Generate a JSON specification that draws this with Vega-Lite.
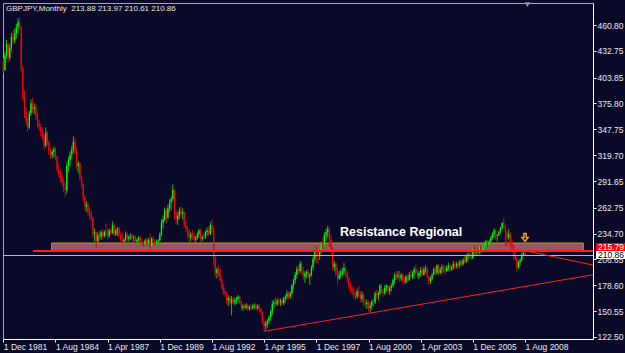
{
"$schema":"https://vega.github.io/schema/vega-lite/v6.json",
"width":590,"height":336,
"autosize":{"type":"none"},
"padding":{"left":3,"top":3,"right":32,"bottom":14},
"background":"#0a0a28",
"view":{"stroke":"#a8a8a8","strokeWidth":1},
"title":{"text":"GBPJPY,Monthly\u00a0 213.88 213.97 210.61 210.86","anchor":"start","frame":"group","offset":-11,"dx":3,"fontSize":8,"fontWeight":"normal","color":"#e6e6e6","font":"Liberation Sans, sans-serif"},
"resolve":{"axis":{"x":"independent","y":"independent"}},
"config":{
"axis":{"labelFont":"Liberation Sans, sans-serif","labelFontSize":8.5,"labelColor":"#e8e8e8","domainColor":"#ffffff","tickColor":"#ffffff","tickSize":3,"grid":false,"title":null,"labelOverlap":false,"labelFlush":false}
},
"datasets":{
"bars":[
{"d":"1981-12-01","o":422,"h":425,"l":409,"c":412},
{"d":"1982-01-01","o":412,"h":432,"l":411,"c":428},
{"d":"1982-02-01","o":428,"h":445,"l":424,"c":440},
{"d":"1982-03-01","o":440,"h":442,"l":420,"c":425},
{"d":"1982-04-01","o":425,"h":440,"l":422,"c":436},
{"d":"1982-05-01","o":436,"h":452,"l":432,"c":448},
{"d":"1982-06-01","o":448,"h":455,"l":440,"c":444},
{"d":"1982-07-01","o":444,"h":457,"l":441,"c":452},
{"d":"1982-08-01","o":452,"h":462,"l":446,"c":458},
{"d":"1982-09-01","o":458,"h":468,"l":452,"c":464},
{"d":"1982-10-01","o":464,"h":469,"l":455,"c":458},
{"d":"1982-11-01","o":458,"h":460,"l":410,"c":414},
{"d":"1982-12-01","o":414,"h":416,"l":378,"c":382},
{"d":"1983-01-01","o":382,"h":390,"l":360,"c":366},
{"d":"1983-02-01","o":366,"h":372,"l":352,"c":356},
{"d":"1983-03-01","o":356,"h":360,"l":345,"c":350},
{"d":"1983-04-01","o":350,"h":368,"l":348,"c":365},
{"d":"1983-05-01","o":365,"h":380,"l":362,"c":376},
{"d":"1983-06-01","o":376,"h":382,"l":365,"c":370},
{"d":"1983-07-01","o":370,"h":376,"l":364,"c":372},
{"d":"1983-08-01","o":372,"h":375,"l":358,"c":362},
{"d":"1983-09-01","o":362,"h":366,"l":350,"c":354},
{"d":"1983-10-01","o":354,"h":358,"l":346,"c":350},
{"d":"1983-11-01","o":350,"h":354,"l":340,"c":346},
{"d":"1983-12-01","o":346,"h":350,"l":336,"c":340},
{"d":"1984-01-01","o":340,"h":343,"l":326,"c":330},
{"d":"1984-02-01","o":330,"h":350,"l":328,"c":344},
{"d":"1984-03-01","o":344,"h":346,"l":330,"c":334},
{"d":"1984-04-01","o":334,"h":336,"l":320,"c":324},
{"d":"1984-05-01","o":324,"h":328,"l":316,"c":320},
{"d":"1984-06-01","o":320,"h":326,"l":316,"c":323},
{"d":"1984-07-01","o":323,"h":329,"l":317,"c":326},
{"d":"1984-08-01","o":326,"h":328,"l":314,"c":318},
{"d":"1984-09-01","o":318,"h":319,"l":301,"c":304},
{"d":"1984-10-01","o":304,"h":310,"l":296,"c":300},
{"d":"1984-11-01","o":300,"h":304,"l":290,"c":296},
{"d":"1984-12-01","o":296,"h":300,"l":286,"c":290},
{"d":"1985-01-01","o":290,"h":294,"l":280,"c":284},
{"d":"1985-02-01","o":284,"h":290,"l":274,"c":282},
{"d":"1985-03-01","o":282,"h":312,"l":278,"c":308},
{"d":"1985-04-01","o":308,"h":318,"l":302,"c":314},
{"d":"1985-05-01","o":314,"h":324,"l":308,"c":320},
{"d":"1985-06-01","o":320,"h":330,"l":316,"c":326},
{"d":"1985-07-01","o":326,"h":340,"l":322,"c":334},
{"d":"1985-08-01","o":334,"h":338,"l":320,"c":324},
{"d":"1985-09-01","o":324,"h":328,"l":304,"c":308},
{"d":"1985-10-01","o":308,"h":313,"l":300,"c":311},
{"d":"1985-11-01","o":311,"h":312,"l":292,"c":296},
{"d":"1985-12-01","o":296,"h":298,"l":284,"c":288},
{"d":"1986-01-01","o":288,"h":290,"l":270,"c":274},
{"d":"1986-02-01","o":274,"h":276,"l":260,"c":264},
{"d":"1986-03-01","o":264,"h":270,"l":258,"c":266},
{"d":"1986-04-01","o":266,"h":268,"l":254,"c":258},
{"d":"1986-05-01","o":258,"h":263,"l":250,"c":256},
{"d":"1986-06-01","o":256,"h":260,"l":248,"c":252},
{"d":"1986-07-01","o":252,"h":253,"l":230,"c":234},
{"d":"1986-08-01","o":234,"h":240,"l":226,"c":236},
{"d":"1986-09-01","o":236,"h":237,"l":219,"c":226},
{"d":"1986-10-01","o":226,"h":236,"l":224,"c":233},
{"d":"1986-11-01","o":233,"h":238,"l":228,"c":231},
{"d":"1986-12-01","o":231,"h":238,"l":228,"c":236},
{"d":"1987-01-01","o":236,"h":240,"l":228,"c":232},
{"d":"1987-02-01","o":232,"h":238,"l":230,"c":237},
{"d":"1987-03-01","o":237,"h":246,"l":232,"c":236},
{"d":"1987-04-01","o":236,"h":240,"l":228,"c":232},
{"d":"1987-05-01","o":232,"h":240,"l":230,"c":238},
{"d":"1987-06-01","o":238,"h":241,"l":233,"c":235},
{"d":"1987-07-01","o":235,"h":248,"l":234,"c":244},
{"d":"1987-08-01","o":244,"h":246,"l":232,"c":234},
{"d":"1987-09-01","o":234,"h":240,"l":232,"c":238},
{"d":"1987-10-01","o":238,"h":242,"l":232,"c":240},
{"d":"1987-11-01","o":240,"h":242,"l":230,"c":233},
{"d":"1987-12-01","o":233,"h":236,"l":226,"c":228},
{"d":"1988-01-01","o":228,"h":236,"l":224,"c":226},
{"d":"1988-02-01","o":226,"h":230,"l":222,"c":228},
{"d":"1988-03-01","o":228,"h":237,"l":226,"c":234},
{"d":"1988-04-01","o":234,"h":236,"l":226,"c":229},
{"d":"1988-05-01","o":229,"h":233,"l":226,"c":231},
{"d":"1988-06-01","o":231,"h":235,"l":228,"c":232},
{"d":"1988-07-01","o":232,"h":234,"l":226,"c":230},
{"d":"1988-08-01","o":230,"h":233,"l":226,"c":231},
{"d":"1988-09-01","o":231,"h":232,"l":224,"c":226},
{"d":"1988-10-01","o":226,"h":230,"l":223,"c":228},
{"d":"1988-11-01","o":228,"h":232,"l":225,"c":230},
{"d":"1988-12-01","o":230,"h":232,"l":224,"c":226},
{"d":"1989-01-01","o":226,"h":229,"l":222,"c":224},
{"d":"1989-02-01","o":224,"h":226,"l":220,"c":223},
{"d":"1989-03-01","o":223,"h":229,"l":221,"c":227},
{"d":"1989-04-01","o":227,"h":230,"l":222,"c":224},
{"d":"1989-05-01","o":224,"h":230,"l":221,"c":228},
{"d":"1989-06-01","o":228,"h":235,"l":217,"c":221},
{"d":"1989-07-01","o":221,"h":231,"l":220,"c":229},
{"d":"1989-08-01","o":229,"h":232,"l":224,"c":226},
{"d":"1989-09-01","o":226,"h":229,"l":222,"c":224},
{"d":"1989-10-01","o":224,"h":228,"l":222,"c":226},
{"d":"1989-11-01","o":226,"h":229,"l":223,"c":227},
{"d":"1989-12-01","o":227,"h":236,"l":226,"c":234},
{"d":"1990-01-01","o":234,"h":250,"l":232,"c":246},
{"d":"1990-02-01","o":246,"h":254,"l":240,"c":250},
{"d":"1990-03-01","o":250,"h":263,"l":248,"c":260},
{"d":"1990-04-01","o":260,"h":262,"l":246,"c":252},
{"d":"1990-05-01","o":252,"h":266,"l":250,"c":262},
{"d":"1990-06-01","o":262,"h":272,"l":258,"c":268},
{"d":"1990-07-01","o":268,"h":275,"l":260,"c":272},
{"d":"1990-08-01","o":272,"h":288,"l":270,"c":282},
{"d":"1990-09-01","o":282,"h":283,"l":250,"c":256},
{"d":"1990-10-01","o":256,"h":260,"l":245,"c":250},
{"d":"1990-11-01","o":250,"h":258,"l":244,"c":254},
{"d":"1990-12-01","o":254,"h":263,"l":250,"c":260},
{"d":"1991-01-01","o":260,"h":264,"l":252,"c":256},
{"d":"1991-02-01","o":256,"h":262,"l":250,"c":258},
{"d":"1991-03-01","o":258,"h":259,"l":241,"c":244},
{"d":"1991-04-01","o":244,"h":248,"l":236,"c":240},
{"d":"1991-05-01","o":240,"h":243,"l":230,"c":238},
{"d":"1991-06-01","o":238,"h":240,"l":226,"c":230},
{"d":"1991-07-01","o":230,"h":236,"l":226,"c":234},
{"d":"1991-08-01","o":234,"h":238,"l":228,"c":232},
{"d":"1991-09-01","o":232,"h":236,"l":226,"c":228},
{"d":"1991-10-01","o":228,"h":232,"l":224,"c":230},
{"d":"1991-11-01","o":230,"h":236,"l":228,"c":234},
{"d":"1991-12-01","o":234,"h":240,"l":230,"c":238},
{"d":"1992-01-01","o":238,"h":240,"l":226,"c":229},
{"d":"1992-02-01","o":229,"h":233,"l":226,"c":231},
{"d":"1992-03-01","o":231,"h":235,"l":228,"c":230},
{"d":"1992-04-01","o":230,"h":238,"l":229,"c":236},
{"d":"1992-05-01","o":236,"h":241,"l":232,"c":238},
{"d":"1992-06-01","o":238,"h":242,"l":232,"c":234},
{"d":"1992-07-01","o":234,"h":247,"l":233,"c":244},
{"d":"1992-08-01","o":244,"h":250,"l":236,"c":240},
{"d":"1992-09-01","o":240,"h":242,"l":200,"c":208},
{"d":"1992-10-01","o":208,"h":210,"l":188,"c":192},
{"d":"1992-11-01","o":192,"h":198,"l":186,"c":196},
{"d":"1992-12-01","o":196,"h":200,"l":188,"c":191},
{"d":"1993-01-01","o":191,"h":196,"l":182,"c":184},
{"d":"1993-02-01","o":184,"h":186,"l":174,"c":176},
{"d":"1993-03-01","o":176,"h":180,"l":168,"c":172},
{"d":"1993-04-01","o":172,"h":176,"l":166,"c":170},
{"d":"1993-05-01","o":170,"h":172,"l":158,"c":162},
{"d":"1993-06-01","o":162,"h":168,"l":156,"c":165},
{"d":"1993-07-01","o":165,"h":167,"l":157,"c":159},
{"d":"1993-08-01","o":159,"h":167,"l":146,"c":164},
{"d":"1993-09-01","o":164,"h":166,"l":158,"c":160},
{"d":"1993-10-01","o":160,"h":165,"l":157,"c":162},
{"d":"1993-11-01","o":162,"h":166,"l":158,"c":164},
{"d":"1993-12-01","o":164,"h":168,"l":160,"c":166},
{"d":"1994-01-01","o":166,"h":167,"l":158,"c":160},
{"d":"1994-02-01","o":160,"h":162,"l":151,"c":154},
{"d":"1994-03-01","o":154,"h":158,"l":151,"c":156},
{"d":"1994-04-01","o":156,"h":159,"l":152,"c":154},
{"d":"1994-05-01","o":154,"h":159,"l":152,"c":157},
{"d":"1994-06-01","o":157,"h":158,"l":151,"c":153},
{"d":"1994-07-01","o":153,"h":157,"l":151,"c":155},
{"d":"1994-08-01","o":155,"h":158,"l":152,"c":154},
{"d":"1994-09-01","o":154,"h":158,"l":152,"c":156},
{"d":"1994-10-01","o":156,"h":159,"l":153,"c":157},
{"d":"1994-11-01","o":157,"h":159,"l":151,"c":153},
{"d":"1994-12-01","o":153,"h":158,"l":152,"c":156},
{"d":"1995-01-01","o":156,"h":158,"l":150,"c":153},
{"d":"1995-02-01","o":153,"h":154,"l":146,"c":149},
{"d":"1995-03-01","o":149,"h":150,"l":136,"c":138},
{"d":"1995-04-01","o":138,"h":140,"l":128.6,"c":134},
{"d":"1995-05-01","o":134,"h":140,"l":130,"c":137},
{"d":"1995-06-01","o":137,"h":142,"l":132,"c":140},
{"d":"1995-07-01","o":140,"h":146,"l":136,"c":144},
{"d":"1995-08-01","o":144,"h":152,"l":140,"c":150},
{"d":"1995-09-01","o":150,"h":162,"l":146,"c":158},
{"d":"1995-10-01","o":158,"h":163,"l":154,"c":160},
{"d":"1995-11-01","o":160,"h":165,"l":156,"c":158},
{"d":"1995-12-01","o":158,"h":164,"l":156,"c":162},
{"d":"1996-01-01","o":162,"h":165,"l":157,"c":160},
{"d":"1996-02-01","o":160,"h":164,"l":156,"c":162},
{"d":"1996-03-01","o":162,"h":165,"l":157,"c":159},
{"d":"1996-04-01","o":159,"h":166,"l":157,"c":164},
{"d":"1996-05-01","o":164,"h":168,"l":160,"c":166},
{"d":"1996-06-01","o":166,"h":173,"l":163,"c":170},
{"d":"1996-07-01","o":170,"h":172,"l":163,"c":166},
{"d":"1996-08-01","o":166,"h":172,"l":164,"c":170},
{"d":"1996-09-01","o":170,"h":180,"l":168,"c":178},
{"d":"1996-10-01","o":178,"h":186,"l":174,"c":184},
{"d":"1996-11-01","o":184,"h":193,"l":180,"c":190},
{"d":"1996-12-01","o":190,"h":199,"l":186,"c":196},
{"d":"1997-01-01","o":196,"h":200,"l":190,"c":194},
{"d":"1997-02-01","o":194,"h":205,"l":192,"c":202},
{"d":"1997-03-01","o":202,"h":204,"l":190,"c":194},
{"d":"1997-04-01","o":194,"h":198,"l":185,"c":188},
{"d":"1997-05-01","o":188,"h":194,"l":181,"c":191},
{"d":"1997-06-01","o":191,"h":195,"l":186,"c":193},
{"d":"1997-07-01","o":193,"h":196,"l":186,"c":188},
{"d":"1997-08-01","o":188,"h":192,"l":179,"c":190},
{"d":"1997-09-01","o":190,"h":200,"l":188,"c":198},
{"d":"1997-10-01","o":198,"h":210,"l":195,"c":207},
{"d":"1997-11-01","o":207,"h":220,"l":204,"c":216},
{"d":"1997-12-01","o":216,"h":221,"l":202,"c":212},
{"d":"1998-01-01","o":212,"h":216,"l":203,"c":210},
{"d":"1998-02-01","o":210,"h":218,"l":206,"c":215},
{"d":"1998-03-01","o":215,"h":226,"l":213,"c":224},
{"d":"1998-04-01","o":224,"h":230,"l":218,"c":222},
{"d":"1998-05-01","o":222,"h":236,"l":220,"c":233},
{"d":"1998-06-01","o":233,"h":240,"l":227,"c":236},
{"d":"1998-07-01","o":236,"h":243,"l":230,"c":239},
{"d":"1998-08-01","o":239,"h":242,"l":220,"c":228},
{"d":"1998-09-01","o":228,"h":234,"l":214,"c":218},
{"d":"1998-10-01","o":218,"h":220,"l":195,"c":198},
{"d":"1998-11-01","o":198,"h":205,"l":194,"c":202},
{"d":"1998-12-01","o":202,"h":203,"l":188,"c":192},
{"d":"1999-01-01","o":192,"h":198,"l":180,"c":186},
{"d":"1999-02-01","o":186,"h":194,"l":184,"c":190},
{"d":"1999-03-01","o":190,"h":196,"l":186,"c":192},
{"d":"1999-04-01","o":192,"h":198,"l":188,"c":194},
{"d":"1999-05-01","o":194,"h":203,"l":190,"c":197},
{"d":"1999-06-01","o":197,"h":199,"l":188,"c":192},
{"d":"1999-07-01","o":192,"h":194,"l":182,"c":186},
{"d":"1999-08-01","o":186,"h":188,"l":174,"c":178},
{"d":"1999-09-01","o":178,"h":182,"l":170,"c":174},
{"d":"1999-10-01","o":174,"h":178,"l":168,"c":172},
{"d":"1999-11-01","o":172,"h":176,"l":164,"c":168},
{"d":"1999-12-01","o":168,"h":172,"l":162,"c":166},
{"d":"2000-01-01","o":166,"h":175,"l":164,"c":172},
{"d":"2000-02-01","o":172,"h":178,"l":166,"c":170},
{"d":"2000-03-01","o":170,"h":172,"l":160,"c":164},
{"d":"2000-04-01","o":164,"h":172,"l":160,"c":168},
{"d":"2000-05-01","o":168,"h":170,"l":156,"c":160},
{"d":"2000-06-01","o":160,"h":164,"l":154,"c":158},
{"d":"2000-07-01","o":158,"h":163,"l":153,"c":160},
{"d":"2000-08-01","o":160,"h":162,"l":150,"c":154},
{"d":"2000-09-01","o":154,"h":160,"l":149,"c":156},
{"d":"2000-10-01","o":156,"h":163,"l":152,"c":161},
{"d":"2000-11-01","o":161,"h":165,"l":156,"c":160},
{"d":"2000-12-01","o":160,"h":172,"l":158,"c":170},
{"d":"2001-01-01","o":170,"h":174,"l":164,"c":168},
{"d":"2001-02-01","o":168,"h":172,"l":162,"c":170},
{"d":"2001-03-01","o":170,"h":180,"l":168,"c":178},
{"d":"2001-04-01","o":178,"h":180,"l":170,"c":172},
{"d":"2001-05-01","o":172,"h":175,"l":166,"c":170},
{"d":"2001-06-01","o":170,"h":179,"l":168,"c":176},
{"d":"2001-07-01","o":176,"h":180,"l":172,"c":178},
{"d":"2001-08-01","o":178,"h":179,"l":170,"c":172},
{"d":"2001-09-01","o":172,"h":178,"l":168,"c":176},
{"d":"2001-10-01","o":176,"h":181,"l":172,"c":178},
{"d":"2001-11-01","o":178,"h":186,"l":176,"c":184},
{"d":"2001-12-01","o":184,"h":192,"l":180,"c":190},
{"d":"2002-01-01","o":190,"h":194,"l":184,"c":188},
{"d":"2002-02-01","o":188,"h":194,"l":185,"c":190},
{"d":"2002-03-01","o":190,"h":194,"l":182,"c":186},
{"d":"2002-04-01","o":186,"h":192,"l":183,"c":190},
{"d":"2002-05-01","o":190,"h":191,"l":181,"c":184},
{"d":"2002-06-01","o":184,"h":188,"l":180,"c":182},
{"d":"2002-07-01","o":182,"h":190,"l":180,"c":188},
{"d":"2002-08-01","o":188,"h":190,"l":182,"c":184},
{"d":"2002-09-01","o":184,"h":193,"l":183,"c":190},
{"d":"2002-10-01","o":190,"h":195,"l":186,"c":188},
{"d":"2002-11-01","o":188,"h":194,"l":185,"c":192},
{"d":"2002-12-01","o":192,"h":198,"l":186,"c":196},
{"d":"2003-01-01","o":196,"h":201,"l":190,"c":192},
{"d":"2003-02-01","o":192,"h":196,"l":186,"c":188},
{"d":"2003-03-01","o":188,"h":194,"l":185,"c":192},
{"d":"2003-04-01","o":192,"h":198,"l":188,"c":195},
{"d":"2003-05-01","o":195,"h":199,"l":188,"c":190},
{"d":"2003-06-01","o":190,"h":198,"l":189,"c":196},
{"d":"2003-07-01","o":196,"h":200,"l":192,"c":197},
{"d":"2003-08-01","o":197,"h":198,"l":186,"c":188},
{"d":"2003-09-01","o":188,"h":189,"l":179,"c":183},
{"d":"2003-10-01","o":183,"h":188,"l":180,"c":186},
{"d":"2003-11-01","o":186,"h":192,"l":184,"c":190},
{"d":"2003-12-01","o":190,"h":198,"l":189,"c":196},
{"d":"2004-01-01","o":196,"h":199,"l":190,"c":192},
{"d":"2004-02-01","o":192,"h":202,"l":190,"c":200},
{"d":"2004-03-01","o":200,"h":201,"l":189,"c":192},
{"d":"2004-04-01","o":192,"h":198,"l":190,"c":196},
{"d":"2004-05-01","o":196,"h":201,"l":192,"c":198},
{"d":"2004-06-01","o":198,"h":201,"l":192,"c":197},
{"d":"2004-07-01","o":197,"h":200,"l":190,"c":194},
{"d":"2004-08-01","o":194,"h":200,"l":193,"c":198},
{"d":"2004-09-01","o":198,"h":203,"l":194,"c":200},
{"d":"2004-10-01","o":200,"h":202,"l":193,"c":196},
{"d":"2004-11-01","o":196,"h":200,"l":194,"c":198},
{"d":"2004-12-01","o":198,"h":205,"l":195,"c":202},
{"d":"2005-01-01","o":202,"h":204,"l":196,"c":199},
{"d":"2005-02-01","o":199,"h":204,"l":197,"c":202},
{"d":"2005-03-01","o":202,"h":205,"l":196,"c":200},
{"d":"2005-04-01","o":200,"h":206,"l":198,"c":204},
{"d":"2005-05-01","o":204,"h":206,"l":199,"c":201},
{"d":"2005-06-01","o":201,"h":208,"l":200,"c":206},
{"d":"2005-07-01","o":206,"h":210,"l":202,"c":204},
{"d":"2005-08-01","o":204,"h":212,"l":203,"c":210},
{"d":"2005-09-01","o":210,"h":214,"l":205,"c":212},
{"d":"2005-10-01","o":212,"h":216,"l":207,"c":210},
{"d":"2005-11-01","o":210,"h":214,"l":206,"c":208},
{"d":"2005-12-01","o":208,"h":221,"l":207,"c":218},
{"d":"2006-01-01","o":218,"h":222,"l":211,"c":214},
{"d":"2006-02-01","o":214,"h":218,"l":210,"c":216},
{"d":"2006-03-01","o":216,"h":220,"l":212,"c":214},
{"d":"2006-04-01","o":214,"h":222,"l":212,"c":220},
{"d":"2006-05-01","o":220,"h":221,"l":212,"c":215},
{"d":"2006-06-01","o":215,"h":222,"l":214,"c":220},
{"d":"2006-07-01","o":220,"h":226,"l":217,"c":222},
{"d":"2006-08-01","o":222,"h":228,"l":218,"c":226},
{"d":"2006-09-01","o":226,"h":228,"l":220,"c":222},
{"d":"2006-10-01","o":222,"h":228,"l":220,"c":226},
{"d":"2006-11-01","o":226,"h":232,"l":224,"c":230},
{"d":"2006-12-01","o":230,"h":236,"l":228,"c":234},
{"d":"2007-01-01","o":234,"h":240,"l":230,"c":238},
{"d":"2007-02-01","o":238,"h":240,"l":228,"c":232},
{"d":"2007-03-01","o":232,"h":234,"l":226,"c":233},
{"d":"2007-04-01","o":233,"h":238,"l":232,"c":237},
{"d":"2007-05-01","o":237,"h":242,"l":235,"c":241},
{"d":"2007-06-01","o":241,"h":247,"l":239,"c":246},
{"d":"2007-07-01","o":246,"h":252,"l":240,"c":243},
{"d":"2007-08-01","o":243,"h":244,"l":221,"c":236},
{"d":"2007-09-01","o":236,"h":238,"l":222,"c":230},
{"d":"2007-10-01","o":230,"h":240,"l":228,"c":234},
{"d":"2007-11-01","o":234,"h":236,"l":218,"c":224},
{"d":"2007-12-01","o":224,"h":228,"l":216,"c":220},
{"d":"2008-01-01","o":220,"h":222,"l":206,"c":210},
{"d":"2008-02-01","o":210,"h":215,"l":205,"c":208},
{"d":"2008-03-01","o":208,"h":209,"l":193,"c":198},
{"d":"2008-04-01","o":198,"h":205,"l":196,"c":204},
{"d":"2008-05-01","o":204,"h":208,"l":200,"c":206},
{"d":"2008-06-01","o":206,"h":214,"l":204,"c":212},
{"d":"2008-07-01","o":212,"h":220,"l":210,"c":214},
{"d":"2008-08-01","o":213.88,"h":213.97,"l":210.61,"c":210.86}
]
},
"layer":[
{"data":{"values":[{"d":"1984-05-22","d2":"2011-07-25","p":216.3,"p2":224.4}]},
 "mark":{"type":"rect","fill":"#985562","stroke":"#c8902a","strokeWidth":1},
 "encoding":{
  "x":{"field":"d","type":"temporal","scale":{"type":"utc","domain":[{"year":1981,"month":11,"date":25,"hours":10,"utc":true},{"year":2012,"month":1,"date":22,"utc":true}]},
   "axis":{"orient":"bottom","values":[{"year":1981,"month":12,"date":1,"utc":true},{"year":1984,"month":8,"date":1,"utc":true},{"year":1987,"month":4,"date":1,"utc":true},{"year":1989,"month":12,"date":1,"utc":true},{"year":1992,"month":8,"date":1,"utc":true},{"year":1995,"month":4,"date":1,"utc":true},{"year":1997,"month":12,"date":1,"utc":true},{"year":2000,"month":8,"date":1,"utc":true},{"year":2003,"month":4,"date":1,"utc":true},{"year":2005,"month":12,"date":1,"utc":true},{"year":2008,"month":8,"date":1,"utc":true}],
    "labelExpr":"utcFormat(datum.value, '%-d %b %Y')","labelAlign":"left","labelBaseline":"top","labelPadding":0,"labelOverlap":false,"labelFontSize":8.5}},
  "x2":{"field":"d2"},
  "y":{"field":"p","type":"quantitative","scale":{"domain":[120.3,484.7],"nice":false,"zero":false},
   "axis":{"orient":"right","values":[122.5,150.55,178.6,206.65,234.7,262.75,291.65,319.7,347.75,375.8,403.85,432.75,460.8],"format":".2f","labelPadding":1,"labelOverlap":false,"labelFontSize":8.5}},
  "y2":{"field":"p2"}
 }},
{"data":{"name":"bars"},
 "mark":{"type":"rule","strokeWidth":1},
 "encoding":{
  "x":{"field":"d","type":"temporal","axis":null},
  "y":{"field":"l","type":"quantitative","axis":null},
  "y2":{"field":"h"},
  "color":{"condition":{"test":"datum.c >= datum.o","value":"#12b812"},"value":"#c01010"}
 }},
{"data":{"name":"bars"},
 "mark":{"type":"rule","strokeWidth":1.3},
 "encoding":{
  "x":{"field":"d","type":"temporal","axis":null},
  "y":{"field":"o","type":"quantitative","axis":null},
  "y2":{"field":"c"},
  "color":{"condition":{"test":"datum.c >= datum.o","value":"#00ff00"},"value":"#ff0000"}
 }},
{"data":{"values":[{"d":"1983-06-07","d2":"2012-01-22","p":215.79}]},
 "mark":{"type":"rule","color":"#ff1a1a","strokeWidth":2},
 "encoding":{"x":{"field":"d","type":"temporal","axis":null},"x2":{"field":"d2"},"y":{"field":"p","type":"quantitative","axis":null}}},
{"data":{"values":[{"d":"1981-11-25","d2":"2012-01-22","p":210.86}]},
 "mark":{"type":"rule","color":"#b8b8c4","strokeWidth":1},
 "encoding":{"x":{"field":"d","type":"temporal","axis":null},"x2":{"field":"d2"},"y":{"field":"p","type":"quantitative","axis":null}}},
{"data":{"values":[{"d":"1995-04-01","d2":"2012-01-22","p":128.6,"p2":190.0},{"d":"2007-03-10","d2":"2012-01-22","p":222.3,"p2":200.5}]},
 "mark":{"type":"rule","color":"#ff2020","strokeWidth":1},
 "encoding":{"x":{"field":"d","type":"temporal","axis":null},"x2":{"field":"d2"},"y":{"field":"p","type":"quantitative","axis":null},"y2":{"field":"p2"}}},
{"data":{"values":[{"d":"1999-02-16","p":236.3,"t":"Resistance Regional"}]},
 "mark":{"type":"text","align":"left","baseline":"middle","font":"Liberation Sans, Arial, sans-serif","fontSize":12.5,"fontWeight":"bold","color":"#ffffff"},
 "encoding":{"x":{"field":"d","type":"temporal","axis":null},"y":{"field":"p","type":"quantitative","axis":null},"text":{"field":"t"}}},
{"data":{"values":[{"d":"2008-08-01","p":230.4}]},
 "mark":{"type":"point","shape":"M-0.3,-1L0.3,-1L0.3,0L0.8,0L0,1L-0.8,0L-0.3,0Z","size":60,"filled":false,"stroke":"#f0a020","strokeWidth":1.5,"opacity":1},
 "encoding":{"x":{"field":"d","type":"temporal","axis":null},"y":{"field":"p","type":"quantitative","axis":null}}},
{"data":{"values":[{"d":"2008-09-16","p":483.0}]},
 "mark":{"type":"point","shape":"triangle-down","size":30,"filled":true,"color":"#8a94aa","opacity":1},
 "encoding":{"x":{"field":"d","type":"temporal","axis":null},"y":{"field":"p","type":"quantitative","axis":null}}},
{"data":{"values":[{"d":"2012-03-18","d2":"2014-06-01","p":207.1,"p2":215.7}]},
 "mark":{"type":"rect","fill":"#ffffff"},
 "encoding":{"x":{"field":"d","type":"temporal","axis":null},"x2":{"field":"d2"},"y":{"field":"p","type":"quantitative","axis":null},"y2":{"field":"p2"}}},
{"data":{"values":[{"d":"2012-03-18","p":211.6,"t":"210.86"}]},
 "mark":{"type":"text","align":"left","baseline":"middle","dx":2,"font":"Liberation Sans, sans-serif","fontSize":8.5,"color":"#000000"},
 "encoding":{"x":{"field":"d","type":"temporal","axis":null},"y":{"field":"p","type":"quantitative","axis":null},"text":{"field":"t"}}},
{"data":{"values":[{"d":"2012-03-18","d2":"2014-06-01","p":215.7,"p2":224.4}]},
 "mark":{"type":"rect","fill":"#ff0000"},
 "encoding":{"x":{"field":"d","type":"temporal","axis":null},"x2":{"field":"d2"},"y":{"field":"p","type":"quantitative","axis":null},"y2":{"field":"p2"}}},
{"data":{"values":[{"d":"2012-03-18","p":220.0,"t":"215.79"}]},
 "mark":{"type":"text","align":"left","baseline":"middle","dx":2,"font":"Liberation Sans, sans-serif","fontSize":8.5,"color":"#ffffff"},
 "encoding":{"x":{"field":"d","type":"temporal","axis":null},"y":{"field":"p","type":"quantitative","axis":null},"text":{"field":"t"}}}
]
}
